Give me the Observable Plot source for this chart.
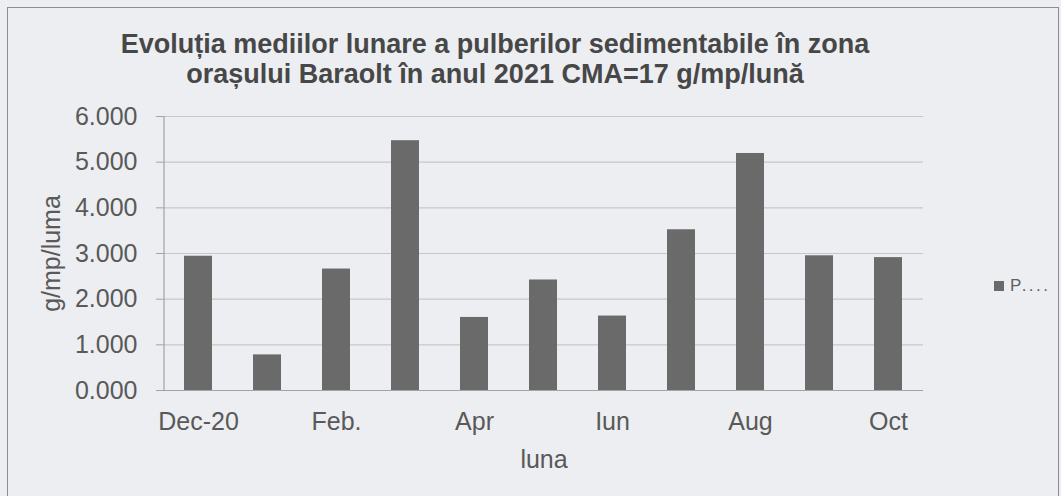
<!DOCTYPE html>
<html><head><meta charset="utf-8">
<script src="https://cdn.jsdelivr.net/npm/d3@7"></script>
<script src="https://cdn.jsdelivr.net/npm/@observablehq/plot@0.6"></script>
<style>
html,body{margin:0;padding:0;background:#eceef1;}
#wrap{position:relative;width:1061px;height:496px;overflow:hidden;font-family:"Liberation Sans",Arial,sans-serif;background:#eceef1;}
#frame{position:absolute;left:7px;top:7px;width:1052px;height:520px;border:1.5px solid #8e8e8e;box-sizing:border-box;pointer-events:none;}
#title{position:absolute;left:0;width:990px;top:29px;text-align:center;font-weight:bold;font-size:27px;line-height:30px;color:#474747;white-space:nowrap;}
#legend{position:absolute;left:994px;top:276px;font-size:17px;line-height:20px;color:#5f5f5f;display:flex;align-items:center;}
#legend .sw{width:10px;height:10px;background:#6a6a6a;margin-right:6px;}
#legtext{letter-spacing:2.5px;}
#chart{position:absolute;left:0;top:0;}
</style></head><body>
<div id="wrap">
  <div id="chart"></div>
  <div id="frame"></div>
  <div id="title"></div>
  <div id="legend"><span class="sw"></span><span id="legtext"></span></div>
</div>
<script>
const titleLines = ["Evoluția mediilor lunare a pulberilor sedimentabile în zona", "orașului Baraolt în anul 2021 CMA=17 g/mp/lună"];
const months = ["Dec-20","Ian.","Feb.","Mar.","Apr","Mai","Iun","Iul","Aug","Sep.","Oct"];
const values = [2.94,0.78,2.66,5.47,1.60,2.42,1.63,3.52,5.19,2.95,2.91];
const yTicks = [0,1,2,3,4,5,6];
const xTickLabels = ["Dec-20","Feb.","Apr","Iun","Aug","Oct"];
const seriesName = "P....";
const yLabel = "g/mp/luma";
const xLabel = "luna";

document.getElementById("title").innerHTML = titleLines.join("<br>");
document.getElementById("legtext").textContent = seriesName;

const data = months.map((m, i) => ({month: m, value: values[i]}));
const textColor = "#595959";

const yAxisLine = (index, scales, values, dims) => {
  const g = document.createElementNS("http://www.w3.org/2000/svg", "line");
  g.setAttribute("x1", dims.marginLeft);
  g.setAttribute("x2", dims.marginLeft);
  g.setAttribute("y1", dims.marginTop);
  g.setAttribute("y2", dims.height - dims.marginBottom);
  g.setAttribute("stroke", "#a3a3a5");
  g.setAttribute("stroke-width", 1.2);
  return g;
};

const chart = Plot.plot({
  width: 1061, height: 496,
  marginLeft: 164, marginRight: 138, marginTop: 116, marginBottom: 106,
  style: {background: "transparent", fontFamily: "Liberation Sans, Arial, sans-serif", fontSize: "25px", color: textColor},
  x: {domain: months, paddingInner: 0.594, paddingOuter: 0.297},
  y: {domain: [0, 6]},
  marks: [
    Plot.gridY(yTicks, {stroke: "#c6c7ca", strokeOpacity: 1, strokeWidth: 1.2}),
    Plot.barY(data, {x: "month", y: "value", fill: "#6a6a6a"}),
    Plot.ruleY([0], {stroke: "#a3a3a5", strokeWidth: 1.2}),
    yAxisLine,
    Plot.axisY(yTicks, {tickFormat: d3.format(".3f"), tickSize: 8, tickPadding: 19, stroke: "#a3a3a5", fill: textColor, fontSize: 25, label: null}),
    Plot.axisX(xTickLabels, {tickSize: 0, tickPadding: 22, fill: textColor, fontSize: 25, label: null}),
    Plot.text([yLabel], {frameAnchor: "left", textAnchor: "middle", lineAnchor: "middle", rotate: -90, dx: -113, fontSize: 25, fill: textColor}),
    Plot.text([xLabel], {frameAnchor: "bottom", textAnchor: "middle", lineAnchor: "middle", dy: 69, fontSize: 25, fill: textColor})
  ]
});
document.getElementById("chart").appendChild(chart);
</script>
</body></html>
